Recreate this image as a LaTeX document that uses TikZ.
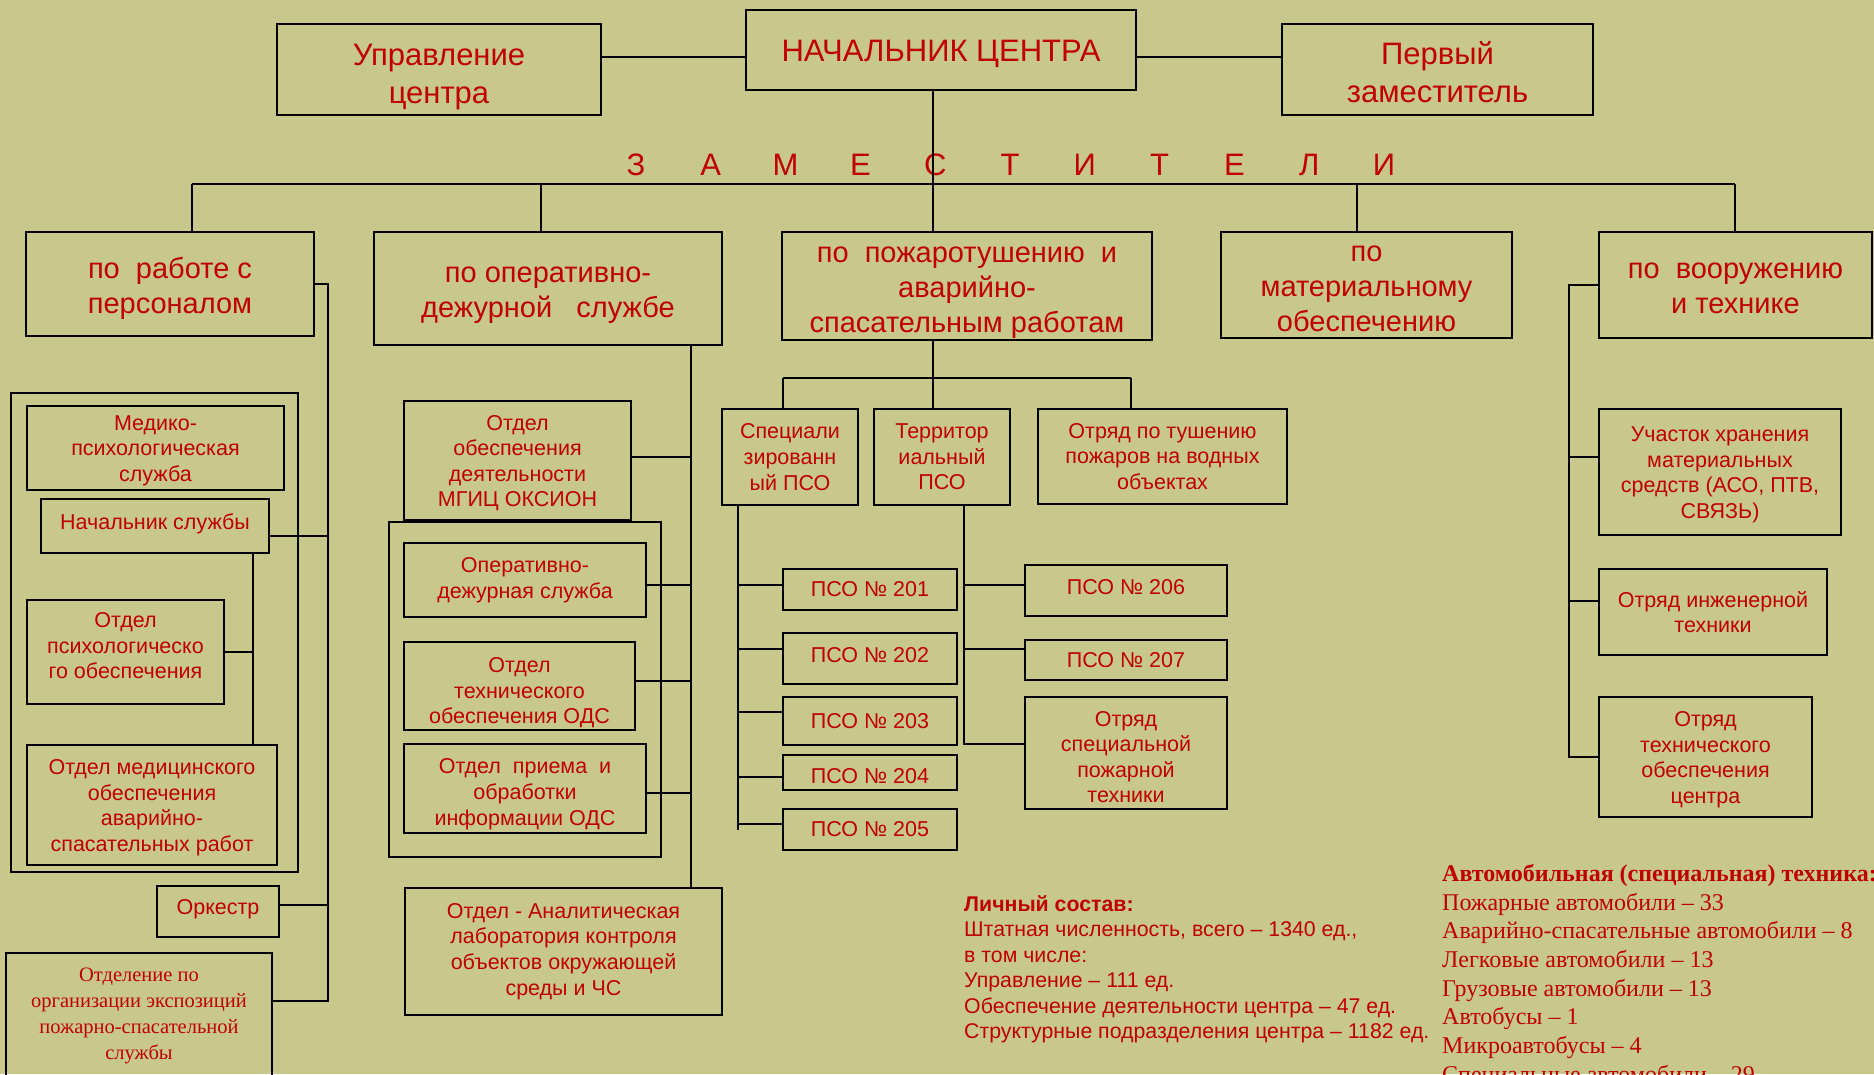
\documentclass[tikz,border=0pt]{standalone}
\usepackage{fontspec}
\setmainfont{Liberation Sans}
\newfontfamily\serifrm{Liberation Serif}
\usepackage{xcolor}
\definecolor{bgolive}{HTML}{C8C88C}
\definecolor{txtred}{HTML}{C00000}
\newcommand\sink[1]{\rule{0pt}{#1pt}}
\newcommand\lift[1]{\rule[-#1pt]{0pt}{#1pt}}
\tikzset{
    box/.style={draw, line width=2.6pt, inner sep=0pt, align=center, text=txtred},
    wh/.style 2 args={minimum width=#1pt, minimum height=#2pt},
    fbig/.style={font=\fontsize{31}{38}\selectfont},
    fmid/.style={font=\fontsize{29}{35}\selectfont},
    fsmall/.style={font=\fontsize{21.5}{25.6}\selectfont},
    fserif/.style={font=\serifrm\fontsize{20.5}{26}\selectfont},
    link/.style={line width=2pt},
    grp/.style={draw, line width=2pt},
    zam/.style={text=txtred, inner sep=0pt, font=\fontsize{31}{31}\selectfont},
    note/.style={anchor=north west, align=left, inner sep=0pt, text=txtred}
}

\begin{document}
\begin{tikzpicture}[x=1pt,y=-1pt]
    \useasboundingbox (0,0) rectangle (1874,1074);
    \fill[bgolive] (0,0) rectangle (1874,1074);
    \clip (0,0) rectangle (1874,1074);

    \node[box,fbig,wh={324}{91}] (upr) at (439,69.5) {\sink{35.7}Управление\\центра};
    \node[box,fbig,wh={390}{80}] (chief) at (941,50) {\sink{29.7}НАЧАЛЬНИК ЦЕНТРА};
    \node[box,fbig,wh={311}{91}] (first) at (1437.5,69.5) {\sink{29}Первый\\заместитель};
    \coordinate (ytop) at (0,57);
    \draw[link] (upr.east |- ytop) -- (chief.west |- ytop);
    \draw[link] (chief.east |- ytop) -- (first.west |- ytop);

    \foreach \l [count=\i from 0] in {З,А,М,Е,С,Т,И,Т,Е,Л,И}
        \node[zam] (z\i) at (636+74.8*\i,165) {\l};

    \node[box,fmid,wh={288}{104}] (pers) at (170,284) {\sink{29.2}по\ \ работе с\\персоналом};
    \node[box,fmid,wh={348}{113}] (oper) at (548,288.5) {\sink{29.8}по оперативно-\\дежурной\ \ \ службе};
    \node[box,fmid,wh={370}{108}] (pozh) at (967,286) {\sink{28.6}по\ \ пожаротушению\ \ и\\аварийно-\\спасательным работам};
    \node[box,fmid,wh={291}{106}] (mat) at (1366.5,285) {\sink{22.6}по\\материальному\\обеспечению};
    \node[box,fmid,wh={273}{106}] (voor) at (1735.5,285) {\sink{22.6}по\ \ вооружению\\и технике};

    \coordinate (bus) at (933,184);
    \coordinate (busL) at (192,184);
    \coordinate (bus2) at (541,184);
    \coordinate (bus4) at (1357,184);
    \coordinate (busR) at (1735,184);
    \draw[link] (chief.south -| bus) -- (pozh.north -| bus);
    \draw[link] (busL) -- (busR);
    \foreach \c/\n in {busL/pers, bus2/oper, bus4/mat, busR/voor}
        \draw[link] (\c) -- (\c |- \n.north);

    \draw[grp] (11,393) rectangle (298,872);
    \node[box,fsmall,wh={257}{84}] (med) at (155.5,448) {\sink{20.3}Медико-\\психологическая\\служба};
    \node[box,fsmall,wh={228}{54}] (nach) at (155,526) {Начальник службы\lift{9.3}};
    \node[box,fsmall,wh={197}{104}] (psy) at (125.5,652) {Отдел\\психологическо\\го обеспечения\lift{12.9}};
    \node[box,fsmall,wh={250}{120}] (medo) at (152,805) {\sink{20.3}Отдел медицинского\\обеспечения\\аварийно-\\спасательных работ};
    \node[box,fsmall,wh={122}{51}] (ork) at (218,911.5) {Оркестр\lift{9.3}};
    \node[box,fserif,wh={266}{125}] (expo) at (139,1015.5) {Отделение по\\организации экспозиций\\пожарно-спасательной\\службы};
    \coordinate (pv) at (328,0);
    \coordinate (nv) at (253,0);
    \coordinate (nachc) at ([yshift=-10pt]nach.east);
    \coordinate (orkc) at ([yshift=6.5pt]ork.east);
    \coordinate (expoc) at ([yshift=15pt]expo.east);
    \draw[link] (pers.east) -| (pv |- expoc) -- (expoc);
    \draw[link] (nachc) -- (pv |- nachc);
    \draw[link] (orkc) -- (pv |- orkc);
    \draw[link] (nach.south -| nv) -- (medo.north -| nv);
    \draw[link] (psy.east) -- (nv |- psy.east);

    \node[box,fsmall,wh={227}{119}] (oks) at (517.5,460.5) {\sink{20.3}Отдел\\обеспечения\\деятельности\\МГИЦ ОКСИОН};
    \draw[grp] (389,522) rectangle (661,857);
    \node[box,fsmall,wh={242}{74}] (ods) at (525,580) {Оперативно-\\дежурная служба};
    \node[box,fsmall,wh={231}{88}] (tods) at (519.5,686) {\sink{29}Отдел\\технического\\обеспечения ОДС};
    \node[box,fsmall,wh={242}{89}] (pods) at (525,788.5) {\sink{26.3}Отдел\ \ приема\ \ и\\обработки\\информации ОДС};
    \node[box,fsmall,wh={317}{127}] (anal) at (563.5,951.5) {Отдел - Аналитическая\\лаборатория контроля\\объектов окружающей\\среды и ЧС};
    \coordinate (ov) at (691,0);
    \draw[link] (oper.south -| ov) -- (anal.north -| ov);
    \foreach \n/\d in {oks/3.5, ods/-5, tods/5, pods/-4.5} {
        \coordinate (c\n) at ([yshift=\d pt]\n.east);
        \draw[link] (c\n) -- (ov |- c\n);
    }

    \node[box,fsmall,wh={136}{96}] (spec) at (790,457) {Специали\\зированн\\ый ПСО};
    \node[box,fsmall,wh={136}{96}] (terr) at (942,457) {Территор\\иальный\\ПСО};
    \node[box,fsmall,wh={249}{95}] (vodn) at (1162.5,456.5) {Отряд по тушению\\пожаров на водных\\объектах};
    \coordinate (pb) at (933,378);
    \coordinate (sbL) at (783,378);
    \coordinate (sbR) at (1131,378);
    \draw[link] (pozh.south -| pb) -- (pb);
    \draw[link] (sbL) -- (sbR);
    \draw[link] (sbL) -- (sbL |- spec.north);
    \draw[link] (pb) -- (pb |- terr.north);
    \draw[link] (sbR) -- (sbR |- vodn.north);

    \node[box,fsmall,wh={174}{41}] (p201) at (870,589.5) {ПСО № 201};
    \node[box,fsmall,wh={174}{51}] (p202) at (870,658.5) {ПСО № 202\lift{7.2}};
    \node[box,fsmall,wh={174}{48}] (p203) at (870,721) {ПСО № 203};
    \node[box,fsmall,wh={174}{35}] (p204) at (870,772.5) {\sink{23}ПСО № 204};
    \node[box,fsmall,wh={174}{41}] (p205) at (870,829.5) {ПСО № 205};
    \coordinate (sv) at (738,0);
    \draw[link] (spec.south -| sv) -- (sv |- p205.west);
    \foreach \n/\d in {201/4.5, 202/9.5, 203/9, 204/-4.5, 205/5.5} {
        \coordinate (c\n) at ([yshift=\d pt]p\n.west);
        \draw[link] (c\n) -- (sv |- c\n);
    }

    \node[box,fsmall,wh={202}{51}] (p206) at (1126,590.5) {ПСО № 206\lift{7.2}};
    \node[box,fsmall,wh={202}{40}] (p207) at (1126,660) {ПСО № 207};
    \node[box,fsmall,wh={202}{112}] (spt) at (1126,753) {\sink{23}Отряд\\специальной\\пожарной\\техники};
    \coordinate (tv) at (964,0);
    \coordinate (csp) at ([yshift=9pt]spt.west);
    \draw[link] (terr.south -| tv) |- (csp);
    \foreach \n/\d in {p206/5.5, p207/11} {
        \coordinate (c\n) at ([yshift=\d pt]\n.west);
        \draw[link] (c\n) -- (tv |- c\n);
    }

    \node[box,fsmall,wh={242}{126}] (uch) at (1720,472) {\sink{20.3}Участок хранения\\материальных\\средств (АСО, ПТВ,\\СВЯЗЬ)};
    \node[box,fsmall,wh={228}{86}] (inzh) at (1713,612) {Отряд инженерной\\техники};
    \node[box,fsmall,wh={213}{120}] (toc) at (1705.5,757) {\sink{20.3}Отряд\\технического\\обеспечения\\центра};
    \coordinate (vv) at (1569,0);
    \draw[link] (voor.west) -| (vv |- toc.west) -- (toc.west);
    \foreach \n/\d in {uch/15, inzh/11} {
        \coordinate (c\n) at ([yshift=\d pt]\n.west);
        \draw[link] (c\n) -- (vv |- c\n);
    }

    \node[note,font=\fontsize{21.3}{25.5}\selectfont] (lich) at (964,895) {\textbf{Личный состав:}\\Штатная численность, всего – 1340 ед.,\\в том числе:\\Управление – 111 ед.\\Обеспечение деятельности центра – 47 ед.\\Структурные подразделения центра – 1182 ед.};
    \node[note,font=\serifrm\fontsize{24}{28.7}\selectfont] (avto) at (1442,864) {\textbf{Автомобильная (специальная) техника:}\\Пожарные автомобили – 33\\Аварийно-спасательные автомобили – 8\\Легковые автомобили – 13\\Грузовые автомобили – 13\\Автобусы – 1\\Микроавтобусы – 4\\Специальные автомобили – 29};
\end{tikzpicture}
\end{document}
